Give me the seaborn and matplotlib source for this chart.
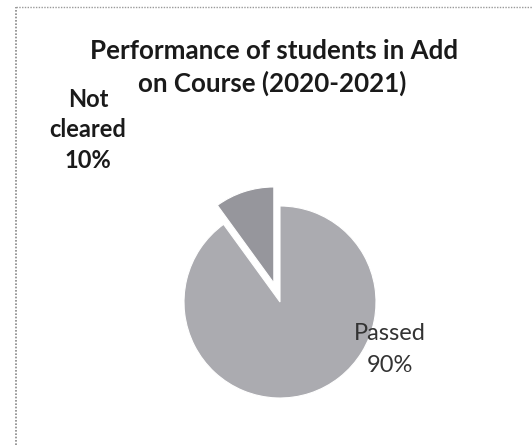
import matplotlib
matplotlib.use('Agg')
import matplotlib.pyplot as plt
import seaborn as sns
from matplotlib.lines import Line2D

# data
labels = ['Not cleared', 'Passed']
values = [10, 90]
slice_colors = ['#96969c', '#ababb0']
title_lines = ['Performance of students in Add', 'on Course (2020-2021)']

sns.set_theme(style='white')
plt.rcParams['font.family'] = ['Lato', 'DejaVu Sans']

W, H = 532, 445
fig = plt.figure(figsize=(W / 100, H / 100), dpi=100)
fig.patch.set_facecolor('white')

# pie axes: 300x300 px box centred at (280, 302) px, 1 data unit = 100 px
cx, cy, box = 280, 302, 300
ax = fig.add_axes([(cx - box / 2) / W, 1 - (cy + box / 2) / H, box / W, box / H])
ax.pie(values, colors=slice_colors, startangle=90, counterclock=True,
       radius=0.96, explode=[0.2, 0],
       wedgeprops=dict(edgecolor='white', linewidth=0.8))
ax.set_xlim(-1.5, 1.5)
ax.set_ylim(-1.5, 1.5)
ax.set_aspect('equal')
ax.axis('off')

def px(x, y):
    return x / W, 1 - y / H

# title
fig.text(*px(274, 59), title_lines[0], ha='center', va='baseline',
         fontsize=18.6, fontweight='bold', color='#1a1a1a')
fig.text(*px(272, 92), title_lines[1], ha='center', va='baseline',
         fontsize=18.6, fontweight='bold', color='#1a1a1a')

# data labels
for txt, yb in zip(['Not', 'cleared', f'{values[0]}%'], [107, 137, 168]):
    fig.text(*px(88, yb), txt, ha='center', va='baseline',
             fontsize=17, fontweight='bold', color='#1a1a1a')
for txt, yb in zip([labels[1], f'{values[1]}%'], [340, 372]):
    fig.text(*px(390, yb), txt, ha='center', va='baseline',
             fontsize=17, color='#333333')

# dotted frame (left and top edges of the chart area)
fig.add_artist(Line2D([16 / W, 16 / W], [0, 1 - 7 / H], color='#888888',
                      linewidth=1.2, linestyle=(0, (1, 1)), transform=fig.transFigure))
fig.add_artist(Line2D([16 / W, 1], [1 - 7 / H, 1 - 7 / H], color='#999999',
                      linewidth=1.0, linestyle=(0, (1, 1)), transform=fig.transFigure))

fig.savefig('out.png', dpi=100)
